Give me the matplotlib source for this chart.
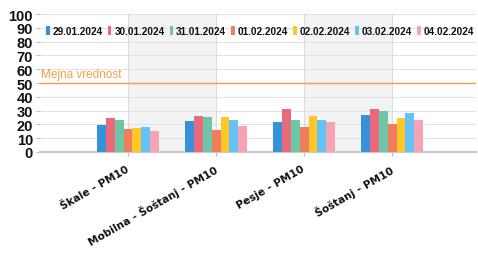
import matplotlib
matplotlib.use("Agg")
import matplotlib.pyplot as plt
import numpy as np

categories = ["Škale - PM10", "Mobilna - Šoštanj - PM10", "Pesje - PM10", "Šoštanj - PM10"]
dates = ["29.01.2024", "30.01.2024", "31.01.2024", "01.02.2024", "02.02.2024", "03.02.2024", "04.02.2024"]
values = {
    "29.01.2024": [19.5, 22.8, 21.6, 27.1],
    "30.01.2024": [25.0, 25.9, 31.0, 31.0],
    "31.01.2024": [23.3, 25.2, 23.3, 29.7],
    "01.02.2024": [16.5, 15.8, 18.2, 20.6],
    "02.02.2024": [17.3, 25.7, 25.9, 24.5],
    "03.02.2024": [18.0, 23.3, 23.3, 28.0],
    "04.02.2024": [15.0, 19.0, 21.6, 23.5],
}
colors = ["#3592d8", "#ea6a7c", "#6cc7a6", "#f27d5d", "#fdc826", "#63c3f7", "#f8a3b3"]
limit_value = 50
limit_label = "Mejna vrednost"
yticks = list(range(0, 101, 10))

fig = plt.figure(figsize=(4.78, 2.55), dpi=100)
ax = fig.add_axes([0.0837, 0.40, 0.912, 0.541])

x = np.arange(len(categories))
bw = 0.1
n = len(dates)
for i, d in enumerate(dates):
    off = (i - (n - 1) / 2) * bw
    ax.bar(x + off, values[d], width=bw, color=colors[i], label=d, zorder=3, linewidth=0)

ax.set_xlim(-1, 3.95)
ax.set_ylim(0, 100)

for k in [0, 2]:
    ax.axvspan(k, k + 1, color="#f3f3f3", zorder=0, lw=0)
for k in range(4):
    ax.axvline(k, color="#dcdcdc", lw=0.8, zorder=1)
ax.set_yticks(yticks)
ax.yaxis.grid(True, color="#e2e2e2", lw=0.8, zorder=1)
ax.set_axisbelow(True)

ax.axhline(limit_value, color="#f5a04a", lw=1.0, zorder=4)
ax.text(-0.985, limit_value + 2, limit_label, color="#f5a04a", fontsize=8.5,
        ha="left", va="bottom", family="Liberation Sans", zorder=5)

for s in ["top", "right", "left"]:
    ax.spines[s].set_visible(False)
ax.spines["bottom"].set_color("#c8c8c8")
ax.spines["bottom"].set_linewidth(1.5)

ax.tick_params(axis="y", length=3, color="#c0c0c0", pad=2)
for lab in ax.get_yticklabels():
    lab.set_fontweight("bold")
    lab.set_fontsize(10.5)
    lab.set_family("Liberation Sans")
    lab.set_color("#111111")

ax.set_xticks(x)
ax.set_xticklabels([])
ax.tick_params(axis="x", length=3, color="#c0c0c0")
for xi, c in zip(x, categories):
    ax.annotate(c, xy=(xi, 0), xycoords="data", xytext=(-2, -8), textcoords="offset points",
                rotation=30, ha="right", va="top", rotation_mode="anchor",
                fontsize=7.6, fontweight="bold", color="#111111", family="DejaVu Sans")

leg = ax.legend(loc="center", bbox_to_anchor=(0.505, 0.877), ncol=7, frameon=False,
                handlelength=0.35, handleheight=0.9, handletextpad=0.3, columnspacing=0.5,
                prop={"family": "Liberation Sans", "weight": "bold", "size": 7.2})
for t in leg.get_texts():
    t.set_color("#111111")

fig.savefig("out.png", dpi=100)
